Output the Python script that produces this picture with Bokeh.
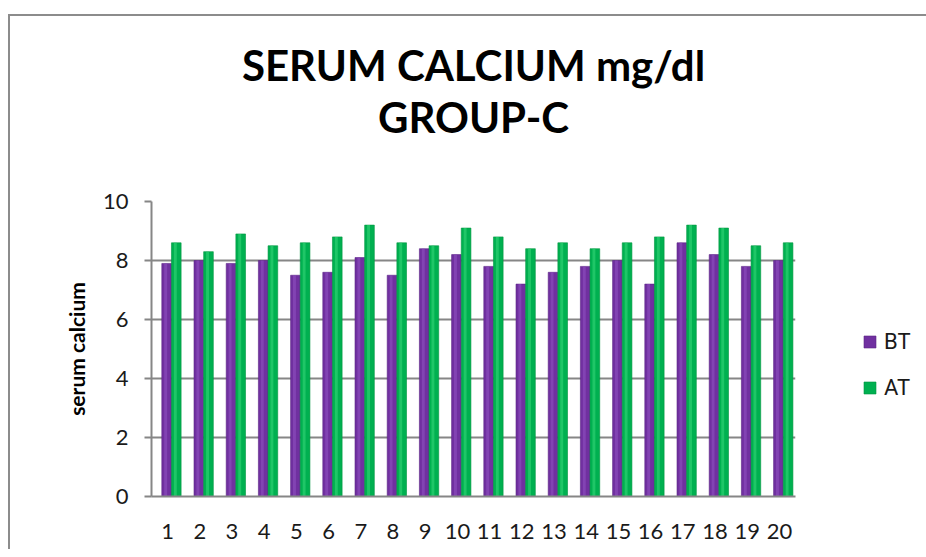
from bokeh.plotting import figure
from bokeh.models import ColumnDataSource, Title, Legend, LegendItem, FactorRange
from bokeh.transform import dodge
from bokeh.embed import file_html
from bokeh.resources import INLINE

patients = [str(i) for i in range(1, 21)]
bt = [7.9, 8.0, 7.9, 8.0, 7.5, 7.6, 8.1, 7.5, 8.4, 8.2, 7.8, 7.2, 7.6, 7.8, 8.0, 7.2, 8.6, 8.2, 7.8, 8.0]
at = [8.6, 8.3, 8.9, 8.5, 8.6, 8.8, 9.2, 8.6, 8.5, 9.1, 8.8, 8.4, 8.6, 8.4, 8.6, 8.8, 9.2, 9.1, 8.5, 8.6]
y_ticks = [0, 2, 4, 6, 8, 10]

PURPLE = "#7030A0"
GREEN = "#00B050"
GRID = "#868686"

src = ColumnDataSource(dict(p=patients, bt=bt, at=at))

p = figure(x_range=FactorRange(*patients, range_padding=0), y_range=(0, 10),
           frame_width=644, frame_height=295, output_backend="svg", toolbar_location=None,
           min_border_left=141, min_border_right=123, min_border_top=185, min_border_bottom=53)
p.title = None
p.styles = {"border-left": "2px solid #8c8c8c", "border-top": "2px solid #8c8c8c",
            "margin-left": "8px", "margin-top": "14px"}

r1 = p.vbar(x=dodge("p", -0.03, range=p.x_range), top="bt", width=0.3, source=src,
            fill_color=PURPLE, line_color="#5a2585", line_width=0.6)
r2 = p.vbar(x=dodge("p", 0.27, range=p.x_range), top="at", width=0.3, source=src,
            fill_color=GREEN, line_color="#00963f", line_width=0.6)
# cylinder highlight
p.vbar(x=dodge("p", -0.06, range=p.x_range), top="bt", width=0.09, source=src,
       fill_color="#8a4cbb", line_color=None, fill_alpha=0.7)
p.vbar(x=dodge("p", 0.24, range=p.x_range), top="at", width=0.09, source=src,
       fill_color="#2cd070", line_color=None, fill_alpha=0.7)

p.add_layout(Title(text="GROUP-C", align="center", text_font="Lato", text_font_size="42px",
                   text_font_style="bold", text_color="black", standoff=119), "above")
p.add_layout(Title(text="SERUM CALCIUM mg/dl", align="center", text_font="Lato", text_font_size="42px",
                   text_font_style="bold", text_color="black", standoff=-119), "above")

p.yaxis.ticker = y_ticks
p.yaxis.axis_label = "serum calcium"
p.yaxis.axis_label_text_font = "Lato"
p.yaxis.axis_label_text_font_style = "bold"
p.yaxis.axis_label_text_font_size = "21px"
p.yaxis.axis_label_text_color = "black"
p.yaxis.axis_label_standoff = 11
for ax in (p.xaxis[0], p.yaxis[0]):
    ax.major_label_text_font = "Lato"
    ax.major_label_text_font_size = "22px"
    ax.major_label_text_color = "#1a1a1a"
    ax.axis_line_color = GRID
    ax.axis_line_width = 2
    ax.major_tick_line_color = GRID
    ax.major_tick_line_width = 2
    ax.minor_tick_line_color = None
p.yaxis.major_tick_out = 7
p.yaxis.major_tick_in = 0
p.yaxis.major_label_standoff = 16
p.xaxis.major_tick_line_color = None
p.xaxis.major_tick_out = 0
p.xaxis.major_label_standoff = 27

p.xgrid.grid_line_color = None
p.ygrid.grid_line_color = GRID
p.ygrid.grid_line_width = 2
p.outline_line_color = None

legend = Legend(items=[LegendItem(label="BT", renderers=[r1]), LegendItem(label="AT", renderers=[r2])],
                location=(67, 96), label_text_font="Roboto", label_text_font_size="22px",
                label_text_color="#1a1a1a", label_standoff=7,
                glyph_width=15, glyph_height=15, spacing=21, padding=0, margin=0,
                border_line_color=None, background_fill_alpha=0)
p.add_layout(legend, "right")

open("out.html", "w").write(file_html(p, INLINE))
